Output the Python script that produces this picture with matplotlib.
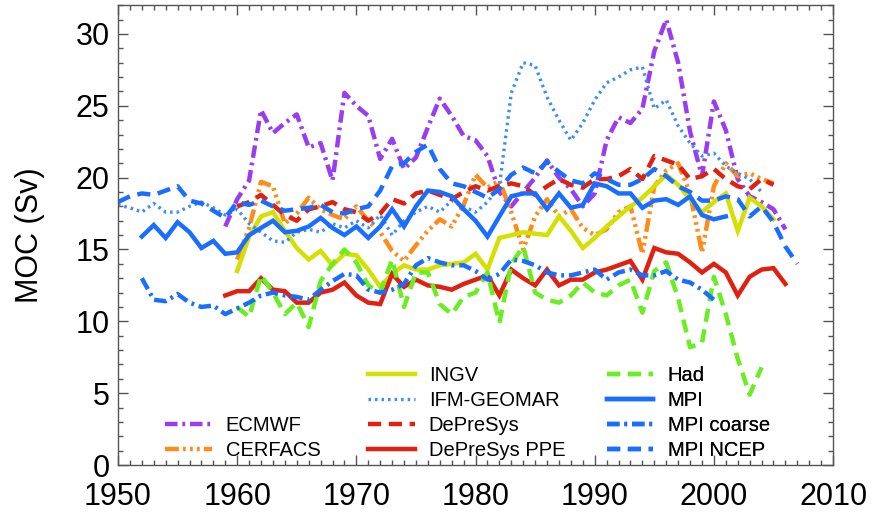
import numpy as np
import matplotlib
matplotlib.use('Agg')
import matplotlib.pyplot as plt
from matplotlib.ticker import MultipleLocator

plt.rcParams['font.family'] = ['Liberation Sans', 'DejaVu Sans']
plt.rcParams['lines.scale_dashes'] = False

# --- data (MOC in Sv, annual values) ---
years_ecmwf = np.arange(1959, 2007)
ecmwf = [16.6, 18.5, 19.8, 24.7, 23.1, 23.8, 24.4, 22.1, 22.4, 19.8,
         25.9, 25.0, 24.3, 21.3, 22.7, 20.6, 21.4, 23.5, 25.5, 24.3,
         22.9, 22.6, 21.5, 19.0, 18.0, 19.0, 20.0, 21.2, 20.0, 19.2,
         18.0, 18.9, 22.6, 24.2, 23.8, 24.8, 28.8, 31.0, 28.0, 23.2,
         20.1, 25.3, 23.3, 19.9, 18.7, 18.3, 17.8, 16.4]

years_cerfacs = np.arange(1960, 2006)
cerfacs = [14.3, 16.5, 19.7, 19.4, 16.8, 17.5, 18.6, 17.8, 17.4, 17.1,
           18.0, 17.0, 16.2, 14.9, 14.2, 15.3, 16.3, 17.1, 16.6, 18.1,
           20.2, 19.3, 19.8, 17.6, 15.0, 17.3, 18.5, 17.3, 17.8, 16.5,
           16.0, 16.4, 17.6, 18.0, 14.7, 19.4, 20.5, 21.0, 18.9, 14.8,
           19.4, 21.0, 20.1, 20.3, 19.9, 19.6]

years_ingv = np.arange(1960, 2006)
ingv = [13.5, 15.9, 17.3, 17.6, 16.3, 15.1, 14.3, 14.9, 13.9, 14.7,
        14.6, 13.6, 12.4, 13.3, 13.9, 13.6, 13.6, 13.9, 14.0, 14.1,
        14.7, 13.6, 15.8, 16.0, 16.2, 16.1, 16.0, 17.3, 16.3, 15.1,
        15.8, 16.6, 17.3, 18.0, 18.6, 19.4, 20.2, 19.5, 18.5, 17.6,
        18.3, 18.9, 16.3, 18.6, 18.0, 17.1]

years_ifm = np.arange(1950, 2005)
ifm = [18.1, 17.9, 17.6, 18.2, 17.6, 17.6, 18.0, 18.3, 17.9, 17.4,
       17.8, 16.8, 16.2, 15.6, 15.5, 16.2, 16.4, 16.2, 16.8, 16.5,
       17.0, 16.5, 17.4, 16.0, 17.0, 17.6, 18.0, 17.6, 18.4, 18.0,
       17.6, 18.3, 19.4, 25.9, 28.0, 27.8, 25.6, 24.0, 22.6, 23.8,
       25.4, 26.6, 27.0, 27.5, 27.7, 24.8, 25.4, 23.6, 22.4, 21.5,
       21.7, 20.8, 20.3, 19.9, 19.0]

years_depresys = np.arange(1960, 2006)
depresys = [18.0, 18.3, 18.8, 18.1, 17.4, 17.0, 17.8, 18.0, 18.3, 17.8,
            17.6, 17.0, 17.5, 18.5, 18.2, 18.9, 19.1, 18.8, 18.5, 19.0,
            19.4, 19.1, 19.4, 19.6, 19.4, 18.8, 19.4, 19.9, 19.5, 19.3,
            19.9, 19.9, 20.1, 20.6, 19.9, 21.5, 21.2, 20.9, 19.9, 20.1,
            20.6, 19.9, 19.4, 19.2, 19.9, 19.5]

years_ppe = np.arange(1959, 2007)
ppe = [11.8, 12.1, 12.1, 13.0, 12.2, 12.1, 11.3, 11.3, 12.0, 12.2,
       12.7, 11.8, 11.3, 11.2, 13.3, 12.4, 12.9, 12.5, 12.4, 12.2,
       12.6, 12.9, 13.2, 11.8, 13.6, 13.0, 12.5, 13.6, 12.5, 12.9,
       12.9, 13.4, 13.6, 13.9, 14.2, 12.9, 15.1, 14.8, 14.7, 14.1,
       13.4, 14.0, 13.4, 11.8, 13.1, 13.6, 13.7, 12.6]

years_had = np.arange(1960, 2005)
had = [11.0, 10.3, 13.2, 12.0, 10.5, 11.3, 9.6, 12.8, 14.0, 15.0,
       14.1, 12.5, 12.0, 14.3, 11.0, 13.4, 13.4, 11.2, 10.5, 11.7,
       12.0, 13.4, 9.9, 14.0, 15.2, 12.0, 11.5, 11.3, 11.8, 12.7,
       12.0, 11.8, 12.5, 12.9, 10.6, 13.5, 14.1, 11.6, 8.2, 8.5,
       13.1, 10.5, 7.4, 4.9, 6.8]

years_mpi = np.arange(1952, 2002)
mpi = [15.9, 16.7, 15.8, 16.9, 16.2, 15.1, 15.6, 14.7, 14.8, 16.0,
       16.5, 17.0, 16.2, 16.3, 16.6, 17.2, 16.5, 16.0, 16.6, 15.8,
       16.6, 17.8, 16.6, 18.0, 19.1, 19.0, 18.7, 17.8, 17.0, 15.9,
       17.3, 18.7, 18.9, 18.9, 17.8, 18.9, 17.9, 18.1, 19.6, 19.4,
       18.9, 18.9, 17.9, 18.4, 18.5, 18.1, 18.7, 17.4, 17.1, 17.3]

years_coarse = np.arange(1952, 2001)
coarse = [13.0, 11.5, 11.4, 11.9, 11.3, 11.0, 11.1, 10.5, 10.9, 11.3,
          11.8, 12.0, 11.8, 11.7, 11.5, 12.2, 12.8, 13.3, 13.2, 12.2,
          12.0, 12.2, 12.6, 13.9, 14.4, 14.1, 13.9, 13.9, 13.5, 12.9,
          13.3, 14.3, 14.2, 13.9, 13.4, 13.2, 13.2, 13.4, 13.6, 12.9,
          13.4, 13.6, 13.2, 13.2, 13.5, 12.9, 12.7, 12.2, 11.5]

years_ncep = np.arange(1950, 2008)
ncep = [18.3, 18.7, 18.9, 18.8, 19.1, 19.4, 18.4, 18.2, 17.7, 17.2,
        18.3, 18.1, 18.4, 18.0, 17.7, 17.8, 17.9, 18.1, 17.6, 17.5,
        17.8, 18.0, 19.1, 20.8, 21.0, 21.8, 22.3, 20.6, 19.6, 19.4,
        19.0, 18.6, 19.2, 20.2, 20.7, 20.3, 21.1, 20.4, 19.8, 19.6,
        20.3, 19.9, 19.5, 19.5, 19.9, 20.6, 20.1, 19.4, 19.0, 18.4,
        18.4, 18.7, 18.5, 17.3, 18.0, 16.9, 15.2, 14.0]

# --- colours and line styles ---
PURPLE = '#9a3cf0'
ORANGE = '#ff8c1a'
YELLOW = '#d4e000'
LBLUE = '#3a8cff'
RED = '#e02010'
GREEN = '#6aee22'
BLUE = '#1a6eff'

DASHDOT = (0, (9, 3.5, 2, 3.5))
DASH3DOT = (0, (10, 3, 2, 3, 2, 3, 2, 3))
DOTTED = (0, (1.8, 2.9))
DASHED = (0, (9.5, 5.5))
LW = 3.2

fig = plt.figure(figsize=(8.76, 5.19), dpi=100)
ax = fig.add_axes([0.1347, 0.104, 0.951 - 0.1347, 0.886])

series = [
    ('ECMWF', years_ecmwf, ecmwf, PURPLE, DASHDOT, LW),
    ('CERFACS', years_cerfacs, cerfacs, ORANGE, DASH3DOT, LW),
    ('INGV', years_ingv, ingv, YELLOW, '-', LW),
    ('IFM-GEOMAR', years_ifm, ifm, LBLUE, DOTTED, 2.4),
    ('DePreSys', years_depresys, depresys, RED, DASHED, LW),
    ('DePreSys PPE', years_ppe, ppe, RED, '-', LW),
    ('Had', years_had, had, GREEN, DASHED, LW),
    ('MPI', years_mpi, mpi, BLUE, '-', LW),
    ('MPI coarse', years_coarse, coarse, BLUE, DASHDOT, LW),
    ('MPI NCEP', years_ncep, ncep, BLUE, DASHED, LW),
]

lines = {}
for name, yrs, vals, col, ls, lw in series:
    ln, = ax.plot(yrs, vals, color=col, linestyle=ls, linewidth=lw,
                  dash_capstyle='butt', solid_joinstyle='miter', label=name)
    lines[name] = ln

ax.set_xlim(1950, 2010)
ax.set_ylim(0, 32)
ax.xaxis.set_major_locator(MultipleLocator(10))
ax.xaxis.set_minor_locator(MultipleLocator(1))
ax.yaxis.set_major_locator(MultipleLocator(5))
ax.yaxis.set_minor_locator(MultipleLocator(1))
ax.tick_params(which='both', direction='in', top=True, right=True,
               color='#555555', width=1.0, labelsize=22)
ax.tick_params(which='major', length=7)
ax.tick_params(which='minor', length=3.5)
ax.tick_params(axis='x', pad=12)
ax.tick_params(axis='y', pad=6)
for sp in ax.spines.values():
    sp.set_color('#555555')
    sp.set_linewidth(1.0)
ax.set_ylabel('MOC (Sv)', fontsize=22, labelpad=22)

leg_kw = dict(frameon=False, fontsize=14.5, handlelength=2.3,
              handletextpad=0.7, labelspacing=0.3, borderpad=0,
              borderaxespad=0, loc='center left')
groups = [
    (['ECMWF', 'CERFACS'], (0.066, 0.058)),
    (['INGV', 'IFM-GEOMAR', 'DePreSys', 'DePreSys PPE'], (0.350, 0.113)),
    (['Had', 'MPI', 'MPI coarse', 'MPI NCEP'], (0.684, 0.113)),
]
for names, anchor in groups:
    leg = ax.legend([lines[n] for n in names], names,
                    bbox_to_anchor=anchor, **leg_kw)
    ax.add_artist(leg)

fig.savefig('out.png', dpi=100)
